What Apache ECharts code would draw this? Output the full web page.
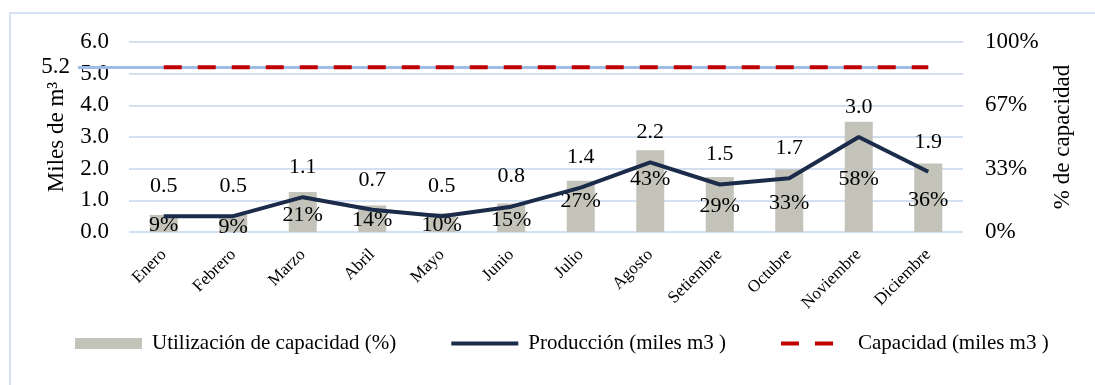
<!DOCTYPE html>
<html>
<head>
<meta charset="utf-8">
<script src="https://cdn.jsdelivr.net/npm/echarts@6/dist/echarts.min.js"></script>
<style>
  html, body { margin: 0; padding: 0; background: #fff; }
  #chart { width: 1095px; height: 385px; }
</style>
</head>
<body>
<div id="chart"></div>
<script>
// datos
const meses = ['Enero', 'Febrero', 'Marzo', 'Abril', 'Mayo', 'Junio', 'Julio',
  'Agosto', 'Setiembre', 'Octubre', 'Noviembre', 'Diciembre'];
const utilizacion = [9, 9, 21, 14, 10, 15, 27, 43, 29, 33, 58, 36];
const produccion = [0.5, 0.5, 1.1, 0.7, 0.5, 0.8, 1.4, 2.2, 1.5, 1.7, 3.0, 1.9];
const capacidad = [5.2, 5.2, 5.2, 5.2, 5.2, 5.2, 5.2, 5.2, 5.2, 5.2, 5.2, 5.2];
const capacidadRef = 5.2;

// desplazamiento vertical de las etiquetas % (colocadas a mano en el original)
const pctLabelShift = [10, 12, 23, 15, 12, 17, 21, 29, 29, 34, 57, 37];

const FONT = "'Liberation Serif', 'DejaVu Serif', serif";

const chart = echarts.init(document.getElementById('chart'));

const barData = utilizacion.map((v, i) => ({
  value: v,
  label: { position: ['50%', pctLabelShift[i]] }
}));

const option = {
  animation: false,
  textStyle: { fontFamily: FONT, color: '#000' },
  graphic: [
    {
      type: 'rect',
      shape: { x: 10, y: 13, width: 1100, height: 400 },
      style: { fill: 'none', stroke: '#d5e2f3', lineWidth: 2 },
      silent: true
    }
  ],
  grid: { left: 129, right: 132, top: 42, bottom: 153 },
  legend: {
    left: 70,
    top: 328,
    itemGap: 53,
    itemWidth: 67,
    itemHeight: 11,
    textStyle: { fontFamily: FONT, fontSize: 21, color: '#000', padding: [0, 0, 0, 5] },
    data: [
      { name: 'Utilización de capacidad (%)', icon: 'rect' },
      {
        name: 'Producción (miles m3 )',
        itemStyle: { opacity: 0 },
        lineStyle: { width: 4, color: '#1b2b4a' }
      },
      {
        name: 'Capacidad (miles m3 )',
        itemStyle: { opacity: 0 },
        lineStyle: { width: 4, color: '#c00000', type: [18, 16] }
      }
    ]
  },
  xAxis: {
    type: 'category',
    data: meses,
    axisLine: { show: false },
    axisTick: { show: false },
    axisLabel: {
      rotate: 45,
      margin: 20,
      fontFamily: FONT,
      fontSize: 17,
      color: '#000',
      interval: 0
    }
  },
  yAxis: [
    {
      type: 'value',
      min: 0,
      max: 6,
      interval: 1,
      name: 'Miles de m³',
      nameLocation: 'middle',
      nameRotate: 90,
      nameGap: 61,
      nameTextStyle: { fontFamily: FONT, fontSize: 23, color: '#000' },
      axisLine: { show: false },
      axisTick: { show: false },
      axisLabel: {
        margin: 20,
        fontFamily: FONT,
        fontSize: 23,
        color: '#000',
        formatter: v => v.toFixed(1)
      },
      splitLine: { lineStyle: { color: '#d3e0f2', width: 2 } }
    },
    {
      type: 'value',
      min: 0,
      max: 100,
      interval: 100 / 3,
      name: '% de capacidad',
      nameLocation: 'middle',
      nameRotate: 90,
      nameGap: 88,
      nameTextStyle: { fontFamily: FONT, fontSize: 23, color: '#000' },
      axisLine: { show: false },
      axisTick: { show: false },
      axisLabel: {
        margin: 22,
        fontFamily: FONT,
        fontSize: 23,
        color: '#000',
        formatter: v => Math.round(v) + '%'
      },
      splitLine: { show: false }
    }
  ],
  series: [
    {
      name: 'ref',
      type: 'line',
      data: [],
      silent: true,
      z: 1,
      markLine: {
        symbol: 'none',
        silent: true,
        z: 1,
        lineStyle: { color: '#9dbde6', width: 3, type: 'solid' },
        label: {
          show: true,
          position: 'start',
          distance: 8,
          fontFamily: FONT,
          fontSize: 23,
          color: '#000',
          formatter: () => capacidadRef.toFixed(1)
        },
        data: [[
          { x: 78, yAxis: capacidadRef },
          { xAxis: meses.length - 1, yAxis: capacidadRef }
        ]]
      }
    },
    {
      name: 'Utilización de capacidad (%)',
      type: 'bar',
      yAxisIndex: 1,
      barWidth: 28,
      data: barData,
      itemStyle: { color: '#c4c3b9' },
      label: {
        show: true,
        align: 'center',
        verticalAlign: 'middle',
        fontFamily: FONT,
        fontSize: 22,
        color: '#000',
        formatter: p => p.value + '%'
      }
    },
    {
      name: 'Producción (miles m3 )',
      type: 'line',
      z: 4,
      data: produccion,
      symbol: 'circle',
      symbolSize: 0,
      showSymbol: true,
      color: '#1b2b4a',
      lineStyle: { color: '#1b2b4a', width: 4 },
      label: {
        show: true,
        position: 'top',
        distance: 19,
        fontFamily: FONT,
        fontSize: 22,
        color: '#000',
        formatter: p => p.value.toFixed(1)
      }
    },
    {
      name: 'Capacidad (miles m3 )',
      type: 'line',
      z: 5,
      data: capacidad,
      symbol: 'none',
      color: '#c00000',
      lineStyle: { color: '#c00000', width: 4, type: [18, 16] }
    }
  ]
};

chart.setOption(option);
</script>
</body>
</html>
